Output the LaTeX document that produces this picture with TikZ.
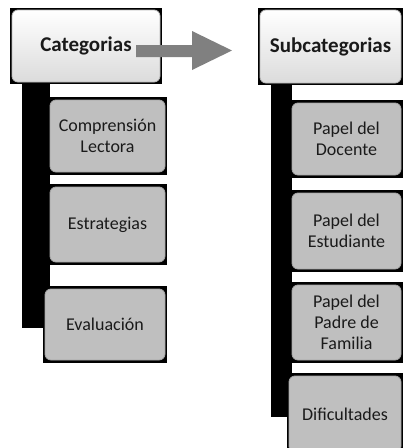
\documentclass[tikz,border=0pt]{standalone}
\usepackage{fontspec}
\setmainfont{Carlito}
\definecolor{boxgray}{HTML}{BFBFBF}
\definecolor{arrowgray}{HTML}{808080}
\definecolor{txt}{HTML}{1A1A1A}
\tikzset{
  topbox/.style={rounded corners=6pt, draw=gray!55, line width=0.8pt,
    top color=white, bottom color=gray!28, inner sep=0pt, align=center,
    text=txt, font=\fontsize{21}{25}\selectfont\bfseries},
  childbox/.style={rounded corners=6pt, draw=gray!70, line width=0.8pt,
    fill=boxgray, inner sep=0pt, align=center,
    text=txt, font=\fontsize{18}{21}\selectfont},
  framefill/.style={fill=black}
}
\begin{document}
\begin{tikzpicture}[x=1pt,y=-1pt]
\useasboundingbox (0,0) rectangle (403,448);
\fill[white] (0,0) rectangle (403,448);
% vertical bars
\fill[framefill] (22,80) rectangle (50,328);
\fill[framefill] (271,82) rectangle (292,417);
% top boxes
\fill[framefill] (10,8) rectangle (162,84);
\node[topbox, minimum width=148pt, minimum height=72pt] (cat) at (86,46) {Categorias};
\fill[framefill] (258,8) rectangle (405,85);
\node[topbox, minimum width=141pt, minimum height=73pt] (sub) at (330.5,46.5) {Subcategorias};
% left children
\fill[framefill] (48,97) rectangle (167,175);
\node[childbox, minimum width=115pt, minimum height=72pt] (c1) at (107.5,136) {Comprensión\\Lectora};
\fill[framefill] (48,184) rectangle (167,265);
\node[childbox, minimum width=115pt, minimum height=75pt] (c2) at (107.5,224.5) {Estrategias};
\fill[framefill] (43,286) rectangle (167,363);
\node[childbox, minimum width=120pt, minimum height=71pt] (c3) at (105,324.5) {Evaluación};
% right children
\fill[framefill] (290,100) rectangle (405,178);
\node[childbox, minimum width=109pt, minimum height=72pt] (d1) at (346.5,139) {Papel del\\Docente};
\fill[framefill] (290,190) rectangle (405,272);
\node[childbox, minimum width=109pt, minimum height=76pt] (d2) at (346.5,231) {Papel del\\Estudiante};
\fill[framefill] (290,282) rectangle (405,363);
\node[childbox, minimum width=109pt, minimum height=75pt] (d3) at (346.5,322.5) {Papel del\\Padre de\\Familia};
\fill[framefill] (287,373) rectangle (405,452);
\node[childbox, minimum width=112pt, minimum height=76pt] (d4) at (345,414) {Dificultades};
% arrow
\fill[arrowgray] (136,45) -- (192,45) -- (192,31) -- (232,50.5) -- (192,70) -- (192,57) -- (136,57) -- cycle;
\end{tikzpicture}
\end{document}
